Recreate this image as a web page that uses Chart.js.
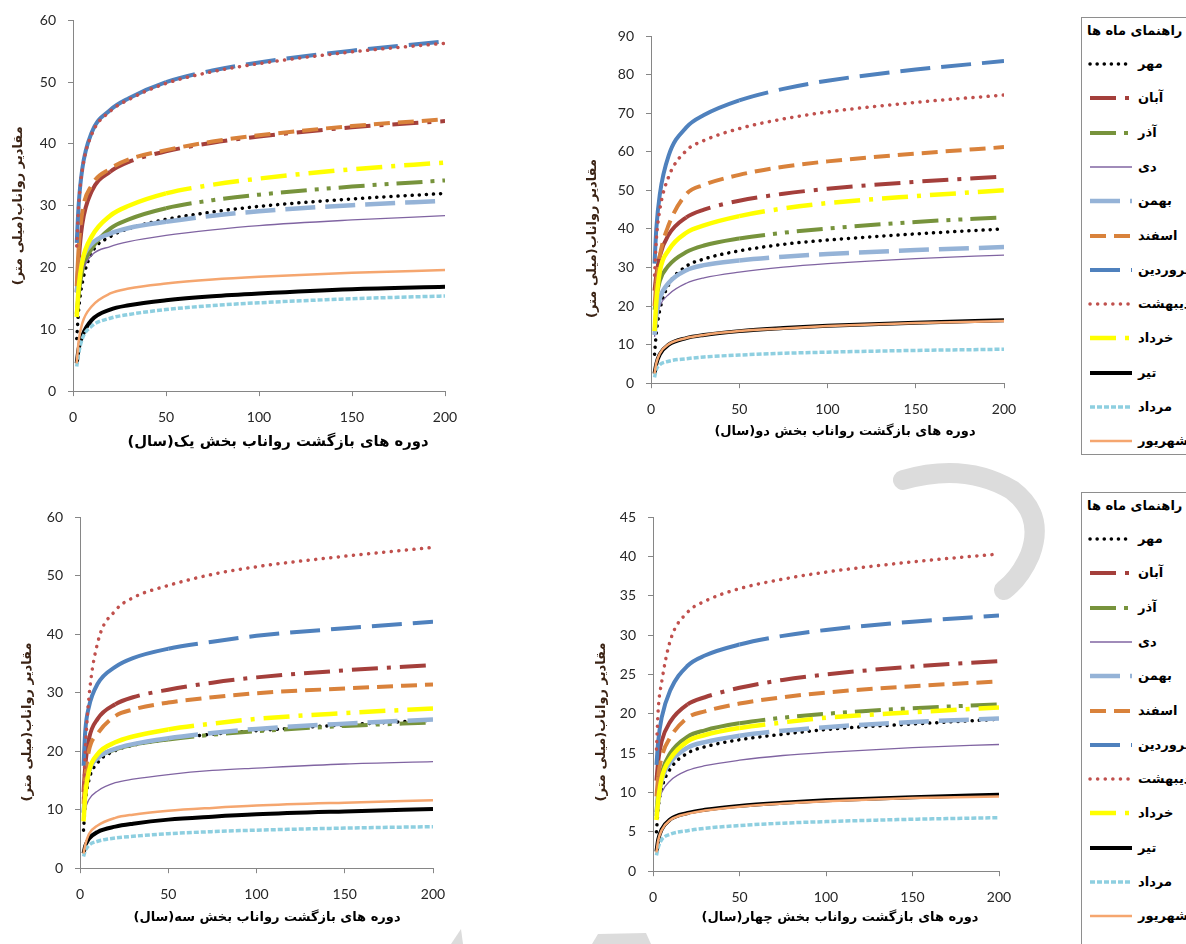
<!DOCTYPE html>
<html lang="fa">
<head>
<meta charset="utf-8">
<title>رواناب ماهانه</title>
<script src="https://cdn.jsdelivr.net/npm/chart.js@4.4.1/dist/chart.umd.min.js"></script>
<style>
html, body { margin: 0; padding: 0; background: #fff; }
body { position: relative; width: 1186px; height: 944px; overflow: hidden; }
canvas { position: absolute; }
#mark { position: absolute; left: 0; top: 0; }
.legend { position: absolute; left: 1081px; width: 160px; border: 1px solid #8e8e8e; background: #fff;
  font-family: 'DejaVu Sans', sans-serif; font-weight: bold; font-size: 13px; color: #000; }
.legend .cap { position: absolute; left: 5px; top: 3px; line-height: 20px; white-space: nowrap; direction: rtl; }
.legend .item { position: absolute; left: 0; width: 160px; height: 20px; }
.legend svg { position: absolute; left: 6px; top: 4px; }
.legend .name { position: absolute; left: 56px; top: 0; line-height: 20px; white-space: nowrap; direction: rtl; }
</style>
</head>
<body>
<svg id="mark" width="1186" height="944">
  <path d="M 903 480 Q 965 462 1012 490 Q 1045 515 1030 555 Q 1020 578 1004 590" fill="none" stroke="#dcdcdc" stroke-width="20" stroke-linecap="round"/>
  <path d="M 592 944 L 598 934 L 646 933 L 651 944 Z" fill="#dcdcdc"/>
  <path d="M 451 944 L 461 929 L 463 944 Z" fill="#dcdcdc"/>
</svg>
<canvas id="part1" dir="rtl" style="left:0;top:0"></canvas>
<canvas id="part2" dir="rtl" style="left:575px;top:0"></canvas>
<canvas id="part3" dir="rtl" style="left:0;top:495px"></canvas>
<canvas id="part4" dir="rtl" style="left:580px;top:495px"></canvas>
<div class="legend" id="legend1" style="top:17px;height:436px"></div>
<div class="legend" id="legend2" style="top:492px;height:470px"></div>
<script>
// return periods (years) on the x axis
const returnPeriods = [2, 3, 5, 10, 20, 30, 50, 75, 100, 150, 200];
const xTicks = [0, 50, 100, 150, 200];
const months = ['مهر', 'آبان', 'آذر', 'دی', 'بهمن', 'اسفند', 'فروردین', 'اردیبهشت', 'خرداد', 'تیر', 'مرداد', 'شهریور'];

const legendTitle = 'راهنمای ماه ها';
const yTitle = 'مقادیر رواناب(میلی متر)';
const xTitles = [
    'دوره های بازگشت رواناب بخش یک(سال)',
    'دوره های بازگشت رواناب بخش دو(سال)',
    'دوره های بازگشت رواناب بخش سه(سال)',
    'دوره های بازگشت رواناب بخش چهار(سال)'
];

// runoff (mm), one row per month in the order of `months`
const part1 = [
    [8.5, 13, 17.5, 22.3, 25, 26.3, 27.8, 29, 29.9, 31.1, 32],
    [16, 21, 27, 32.3, 35.5, 37.1, 38.8, 40.2, 41.2, 42.7, 43.7],
    [12.5, 15.5, 19.5, 23, 26.3, 27.8, 29.6, 30.9, 31.8, 33.1, 34.1],
    [15.5, 17.5, 19.5, 22, 23.4, 24.2, 25.2, 26.1, 26.8, 27.7, 28.4],
    [16, 18.5, 21.3, 23.8, 25.5, 26.4, 27.4, 28.4, 29.1, 30.1, 30.8],
    [17, 23, 29, 33.3, 36, 37.5, 39, 40.4, 41.4, 42.9, 44],
    [24, 30, 36, 41.8, 45.5, 47.4, 50, 51.9, 53.2, 55.1, 56.6],
    [23.5, 29.8, 35.8, 41.5, 45.3, 47.2, 49.8, 51.7, 53, 54.9, 56.3],
    [12, 16.5, 21, 25, 28.4, 30, 32, 33.4, 34.4, 35.9, 37],
    [4.5, 6.8, 9, 11.5, 13.2, 13.9, 14.7, 15.35, 15.8, 16.5, 16.9],
    [4, 6, 8.5, 10.5, 11.8, 12.4, 13.2, 13.85, 14.3, 14.95, 15.4],
    [4.5, 8, 11, 13.7, 15.8, 16.6, 17.4, 18.05, 18.5, 19.15, 19.6]
];
const part2 = [
    [7.5, 13, 19, 25.5, 30.3, 32.2, 34.3, 36, 37.1, 38.7, 40],
    [24, 28, 33, 38.5, 43, 45, 47.3, 49.1, 50.4, 52.2, 53.6],
    [19, 22, 26.5, 30.5, 34, 35.7, 37.5, 39, 40.1, 41.8, 43],
    [12, 16.5, 20, 23, 25.9, 27.3, 28.8, 30.1, 31, 32.3, 33.2],
    [12.5, 17.5, 22, 26, 29.3, 30.6, 31.8, 32.8, 33.5, 34.5, 35.3],
    [20, 26, 33, 41, 49, 51.4, 54, 56.1, 57.5, 59.5, 61.2],
    [31, 40, 49, 59, 66.3, 69.5, 73.3, 76.3, 78.4, 81.3, 83.5],
    [28, 37, 45, 53.5, 60.3, 62.9, 66, 68.5, 70.3, 72.8, 74.7],
    [13.5, 21, 29, 34.5, 39, 40.9, 43.3, 45.3, 46.7, 48.5, 50],
    [2.5, 5, 7.5, 10, 11.7, 12.5, 13.5, 14.3, 14.9, 15.7, 16.3],
    [1.5, 3.5, 4.8, 5.7, 6.35, 6.8, 7.3, 7.75, 8.05, 8.5, 8.8],
    [2.5, 5.2, 7.7, 10.1, 11.7, 12.5, 13.5, 14.2, 14.8, 15.6, 16.1]
];
const part3 = [
    [6.5, 11, 15, 18, 20.1, 21, 22, 22.9, 23.5, 24.5, 25.3],
    [13, 17.5, 22, 25.5, 28, 29.2, 30.5, 31.7, 32.6, 33.8, 34.7],
    [9.5, 13, 16.5, 18.8, 20.3, 21.1, 22, 22.8, 23.4, 24.3, 24.9],
    [8, 10, 11.7, 13.2, 14.6, 15.2, 16, 16.7, 17.1, 17.8, 18.2],
    [9.5, 13, 16.5, 18.8, 20.4, 21.2, 22.2, 23.1, 23.8, 24.7, 25.4],
    [11, 15.5, 20, 23, 26, 27.1, 28.3, 29.2, 29.9, 30.7, 31.4],
    [17.5, 23.5, 27.5, 31.5, 34.4, 35.9, 37.5, 38.7, 39.7, 41, 42.1],
    [12, 20, 29, 38.5, 44, 46.2, 48.3, 50.2, 51.5, 53.3, 54.8],
    [8, 12.5, 16.5, 19.5, 21.5, 22.5, 23.7, 24.7, 25.5, 26.5, 27.3],
    [2.5, 3.8, 5, 6.2, 7.1, 7.6, 8.3, 8.8, 9.2, 9.7, 10.1],
    [2, 3, 3.9, 4.6, 5.15, 5.45, 5.9, 6.25, 6.5, 6.85, 7.1],
    [2.5, 4, 5.8, 7.3, 8.6, 9.15, 9.8, 10.3, 10.7, 11.2, 11.6]
];
const part4 = [
    [5, 8, 10.5, 13, 15, 15.8, 16.7, 17.4, 18, 18.7, 19.3],
    [11.5, 14, 16.5, 19, 21.2, 22.1, 23.3, 24.3, 25, 26, 26.7],
    [7.5, 10, 12.5, 15, 17.1, 17.9, 18.8, 19.5, 20, 20.7, 21.2],
    [7, 8.5, 10, 11.5, 12.8, 13.4, 14.1, 14.7, 15.1, 15.7, 16.1],
    [7, 9, 11.5, 13.8, 15.7, 16.4, 17.2, 17.85, 18.3, 18.95, 19.4],
    [9.5, 12, 14.5, 17, 19.5, 20.3, 21.3, 22.1, 22.7, 23.5, 24.1],
    [13.5, 16.5, 19.5, 23, 26.1, 27.4, 28.8, 29.9, 30.65, 31.7, 32.5],
    [15.5, 20.5, 24, 29.3, 32.9, 34.3, 35.9, 37.1, 38, 39.3, 40.3],
    [6.5, 9, 11.8, 14.3, 16.5, 17.3, 18.2, 18.9, 19.5, 20.2, 20.8],
    [2.5, 4, 5.3, 6.6, 7.4, 7.8, 8.3, 8.7, 9, 9.4, 9.7],
    [2, 3, 4, 4.7, 5.15, 5.45, 5.8, 6.1, 6.3, 6.6, 6.8],
    [2.4, 3.9, 5.2, 6.5, 7.3, 7.7, 8.2, 8.6, 8.9, 9.3, 9.5]
];
const yTicks1 = [0, 10, 20, 30, 40, 50, 60];
const yTicks2 = [0, 10, 20, 30, 40, 50, 60, 70, 80, 90];
const yTicks3 = [0, 10, 20, 30, 40, 50, 60];
const yTicks4 = [0, 5, 10, 15, 20, 25, 30, 35, 40, 45];

// line look per month (same order as months)
const lineStyles = [
    { color: '#000000', width: 3.5, dash: [0.1, 7], cap: 'round' },
    { color: '#a43f3b', width: 4, dash: [26, 9, 4, 9], solidTo: 20 },
    { color: '#77933c', width: 4, dash: [26, 8, 4, 8, 4, 8], solidTo: 50 },
    { color: '#8064a2', width: 1.3, dash: [] },
    { color: '#95b3d7', width: 4.5, dash: [30, 10], solidTo: 50 },
    { color: '#d9823b', width: 4, dash: [16, 8], solidTo: 3 },
    { color: '#4f81bd', width: 4, dash: [30, 11], solidTo: 50 },
    { color: '#c0504d', width: 3.5, dash: [0.1, 7.5], cap: 'round' },
    { color: '#ffff00', width: 4.5, dash: [26, 9, 4, 9], solidTo: 50 },
    { color: '#000000', width: 4, dash: [] },
    { color: '#8ecfe0', width: 3.5, dash: [5, 2] },
    { color: '#f5a66f', width: 2.5, dash: [] }
];

const axisGray = '#868686';
const tickFont = { family: 'Lato, "DejaVu Sans", sans-serif', size: 14 };
const tickColor = '#262626';

function buildDatasets(rows) {
    return rows.map((row, i) => {
        const st = lineStyles[i];
        return {
            label: months[i],
            data: returnPeriods.map((t, j) => ({ x: t, y: row[j] })),
            borderColor: st.color,
            backgroundColor: st.color,
            borderWidth: st.width,
            borderDash: st.dash,
            borderCapStyle: st.cap || 'butt',
            pointRadius: 0,
            fill: false,
            cubicInterpolationMode: 'monotone',
            order: rows.length - 1 - i,
            segment: {
                borderDash: ctx => (st.solidTo && ctx.p1.parsed.x <= st.solidTo) ? [] : st.dash
            }
        };
    });
}

// box: canvas left/top, plot area [left, top, right, bottom] in page px,
// x title centre (x, y), y title centre x; sideTitle puts the y title in a
// full-height band (centred on the whole canvas) instead of on the axis
function drawPart(id, box, rows, yTicks, xTitle, xTitleSize) {
    const lh = 1.2;
    const ySize = 13;
    const xHalf = xTitleSize * lh / 2;
    const yPad = box.yTitleX - box.left - ySize * lh / 2;
    const yFont = { family: '"DejaVu Sans", sans-serif', size: ySize, weight: 'bold', lineHeight: lh };
    const width = Math.round(2 * (box.xTitleX - box.left));
    const height = Math.round(box.xTitleY - box.top + xHalf + 2);
    const canvas = document.getElementById(id);
    canvas.width = width;
    canvas.height = height;
    new Chart(canvas, {
        type: 'line',
        data: { datasets: buildDatasets(rows) },
        options: {
            responsive: false,
            animation: false,
            layout: { padding: { top: box.plot[1] - box.top, right: 0, bottom: 0, left: 0 } },
            plugins: {
                legend: { display: false },
                tooltip: { enabled: false },
                title: {
                    display: true, position: 'bottom', text: xTitle, color: '#000',
                    font: { family: '"DejaVu Sans", sans-serif', size: xTitleSize, weight: 'bold', lineHeight: lh },
                    padding: { top: 0, bottom: 2 }
                },
                subtitle: {
                    display: !!box.sideTitle, position: 'left', text: yTitle, color: '#3b2314',
                    font: yFont, padding: { top: yPad, bottom: 0 }
                }
            },
            scales: {
                x: {
                    type: 'linear',
                    min: 0,
                    max: 200,
                    afterBuildTicks: s => { s.ticks = xTicks.map(v => ({ value: v })); },
                    afterFit: s => { s.height = box.xTitleY - xHalf - box.plot[3]; },
                    grid: { drawOnChartArea: false, drawTicks: true, tickLength: 5, color: axisGray },
                    border: { color: axisGray, width: 1 },
                    ticks: { font: tickFont, color: tickColor, padding: 13, maxRotation: 0 }
                },
                y: {
                    min: yTicks[0],
                    max: yTicks[yTicks.length - 1],
                    afterBuildTicks: s => { s.ticks = yTicks.map(v => ({ value: v })); },
                    afterFit: s => {
                        s.width = box.plot[0] - box.left - (box.sideTitle ? yPad + ySize * lh : 0);
                    },
                    grid: { drawOnChartArea: false, drawTicks: true, tickLength: 5, color: axisGray },
                    border: { color: axisGray, width: 1 },
                    ticks: { font: tickFont, color: tickColor, padding: 12 },
                    title: {
                        display: !box.sideTitle, text: yTitle, color: '#3b2314',
                        font: yFont, padding: { top: yPad, bottom: 0 }
                    }
                },
                // empty right-hand strip, keeps the plot narrower than the title band
                side: {
                    position: 'right',
                    grid: { display: false, drawTicks: false },
                    border: { display: false },
                    ticks: { display: false },
                    afterFit: s => { s.width = box.left + width - box.plot[2]; }
                }
            }
        }
    });
}

drawPart('part1', { left: 0, top: 0, plot: [73, 20, 445, 391], xTitleX: 278, xTitleY: 442, yTitleX: 19 },
    part1, yTicks1, xTitles[0], 14.8);
drawPart('part2', { left: 575, top: 0, plot: [651, 36, 1004, 383], xTitleX: 845, xTitleY: 431, yTitleX: 593, sideTitle: true },
    part2, yTicks2, xTitles[1], 13);
drawPart('part3', { left: 0, top: 495, plot: [80, 517, 433, 868], xTitleX: 267, xTitleY: 917, yTitleX: 28, sideTitle: true },
    part3, yTicks3, xTitles[2], 13);
drawPart('part4', { left: 580, top: 495, plot: [653, 517, 999, 871], xTitleX: 840, xTitleY: 917, yTitleX: 602, sideTitle: true },
    part4, yTicks4, xTitles[3], 13);

// HTML legends (the boxes run past the right edge of the page, as in the source)
function sampleSvg(st) {
    const ns = 'http://www.w3.org/2000/svg';
    const svg = document.createElementNS(ns, 'svg');
    svg.setAttribute('width', '46');
    svg.setAttribute('height', '12');
    const line = document.createElementNS(ns, 'line');
    line.setAttribute('x1', '2');
    line.setAttribute('x2', '44');
    line.setAttribute('y1', '6');
    line.setAttribute('y2', '6');
    line.setAttribute('stroke', st.color);
    line.setAttribute('stroke-width', st.width);
    if (st.dash.length) line.setAttribute('stroke-dasharray', st.dash.join(' '));
    line.setAttribute('stroke-linecap', st.cap || 'butt');
    svg.appendChild(line);
    return svg;
}

function buildLegend(id) {
    const el = document.getElementById(id);
    const cap = document.createElement('div');
    cap.className = 'cap';
    cap.textContent = legendTitle;
    el.appendChild(cap);
    months.forEach((m, i) => {
        const row = document.createElement('div');
        row.className = 'item';
        row.style.top = (36 + i * 34.3) + 'px';
        row.appendChild(sampleSvg(lineStyles[i]));
        const name = document.createElement('span');
        name.className = 'name';
        name.textContent = m;
        row.appendChild(name);
        el.appendChild(row);
    });
}
buildLegend('legend1');
buildLegend('legend2');
</script>
</body>
</html>
